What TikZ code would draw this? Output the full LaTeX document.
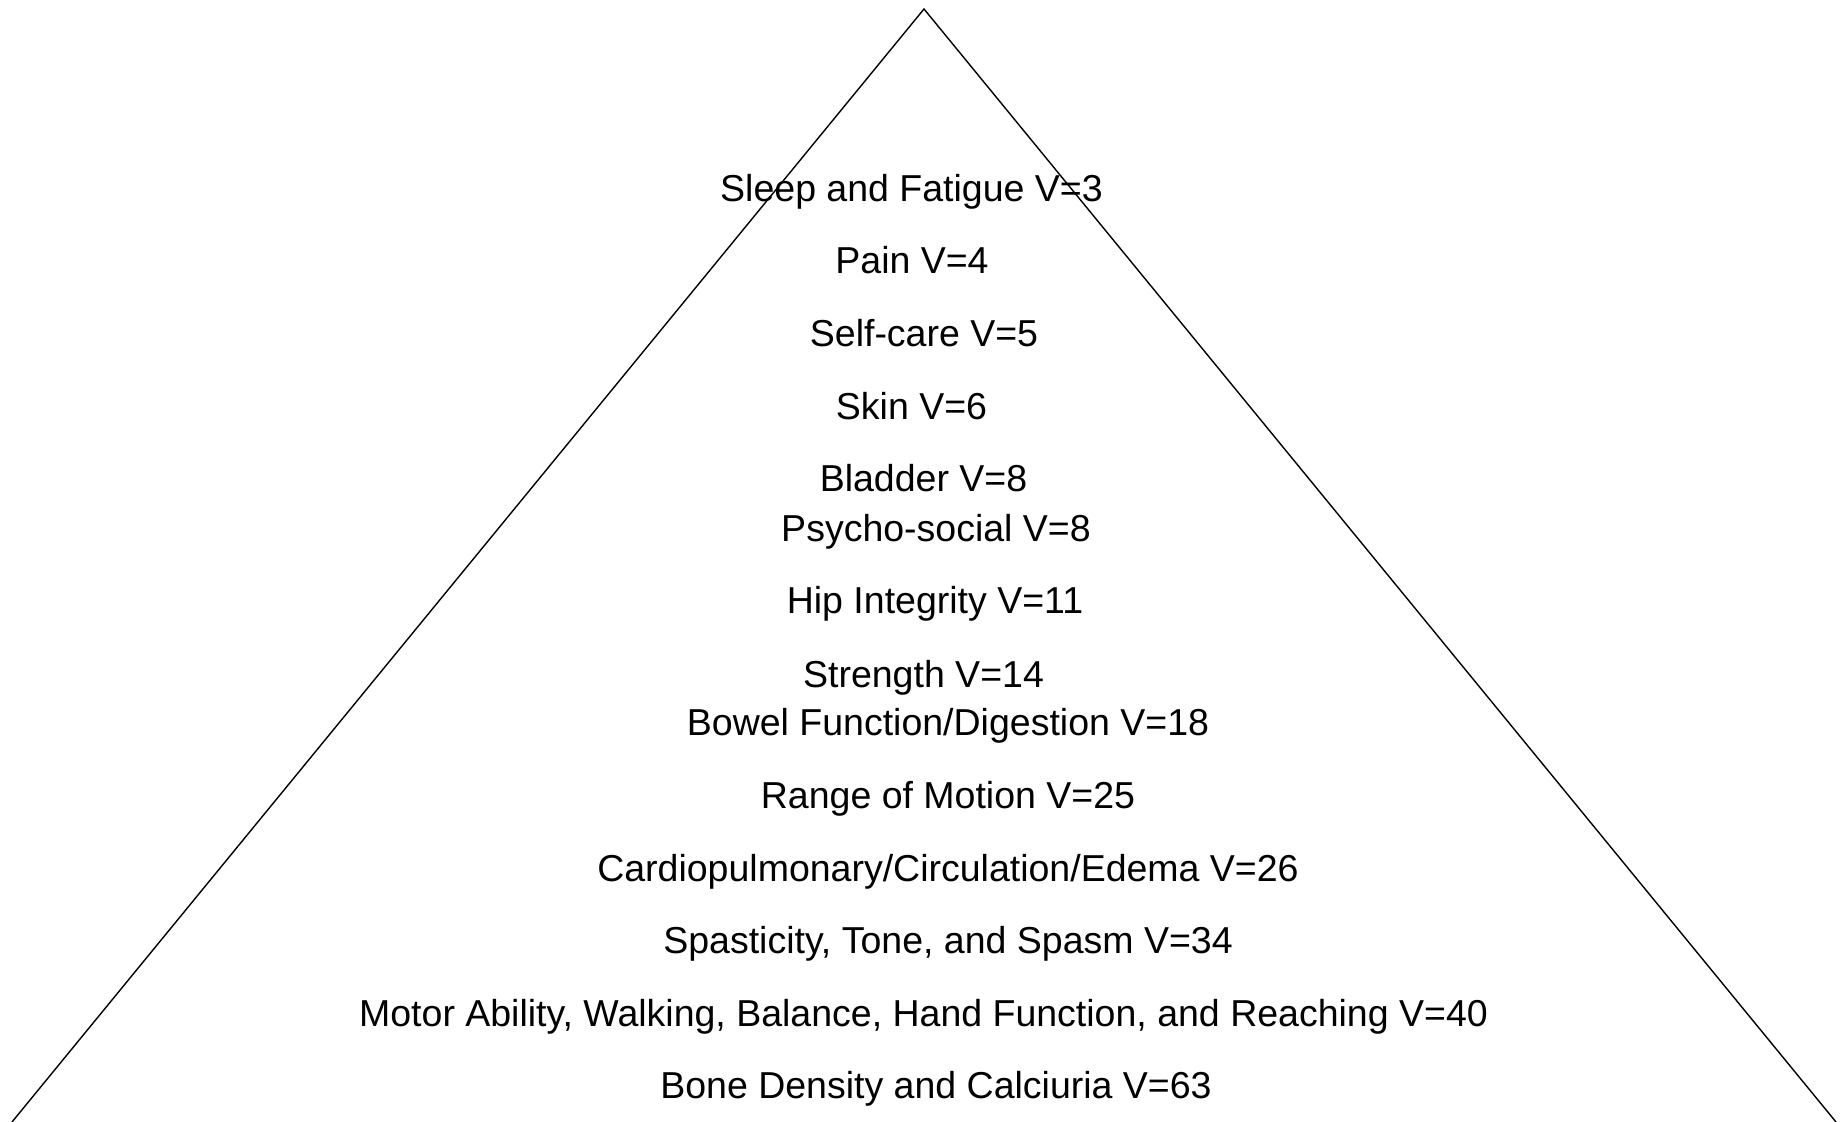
\documentclass[tikz,border=0pt]{standalone}
\usepackage{fontspec}
\setmainfont{Liberation Sans}
\begin{document}
\begin{tikzpicture}[x=0.5pt,y=-0.5pt,
  lbl/.style={anchor=base, inner sep=0pt, font=\fontsize{18.75pt}{22pt}\selectfont},
  edge/.style={line width=0.7pt, line join=miter}]
\useasboundingbox[fill=white] (0,0) rectangle (1847,1122);
\coordinate (apex) at (924,9);
\coordinate (bl) at (12,1122);
\coordinate (br) at (1836,1122);
\draw[edge] (bl) -- (apex) -- (br);
\node[lbl] (n1)  at (911.5,202) {Sleep and Fatigue V=3};
\node[lbl] (n2)  at (912,274) {Pain V=4};
\node[lbl] (n3)  at (924,347) {Self-care V=5};
\node[lbl] (n4)  at (911.5,420) {Skin V=6};
\node[lbl] (n5)  at (923.5,492) {Bladder V=8};
\node[lbl] (n6)  at (936,542) {Psycho-social V=8};
\node[lbl] (n7)  at (935,614) {Hip Integrity V=11};
\node[lbl] (n8)  at (923.5,687) {Strength V=14};
\node[lbl] (n9)  at (948,735) {Bowel Function/Digestion V=18};
\node[lbl] (n10) at (948,808) {Range of Motion V=25};
\node[lbl] (n11) at (948,881) {Cardiopulmonary/Circulation/Edema V=26};
\node[lbl] (n12) at (948,953) {Spasticity, Tone, and Spasm V=34};
\node[lbl] (n13) at (923.5,1026) {Motor Ability, Walking, Balance, Hand Function, and Reaching V=40};
\node[lbl] (n14) at (936,1098) {Bone Density and Calciuria V=63};
\end{tikzpicture}
\end{document}
